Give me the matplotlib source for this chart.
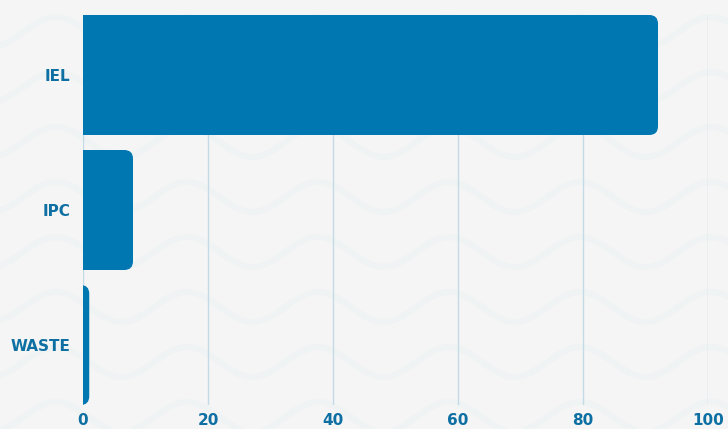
import numpy as np
import matplotlib
matplotlib.use('Agg')
from matplotlib import pyplot as plt
from matplotlib.patches import FancyBboxPatch

# data
categories = ['IEL', 'IPC', 'WASTE']
values = [92, 8, 1]
xticks = [0, 20, 40, 60, 80, 100]

bar_color = '#0077b0'
text_color = '#0e6fa3'
bg_color = '#f5f5f5'

fig = plt.figure(figsize=(7.28, 4.29), dpi=100)
fig.patch.set_facecolor(bg_color)

# wavy background
bg = fig.add_axes([0, 0, 1, 1], zorder=-1)
bg.set_xlim(0, 728)
bg.set_ylim(429, 0)
bg.axis('off')
xx = np.linspace(0, 728, 800)
for yc in range(-23, 480, 55):
    bg.plot(xx, yc - 15 * np.cos(2 * np.pi * (xx - 187) / 131), color='#f0f3f3', lw=4.5,
            solid_capstyle='round')

ax = fig.add_axes([83 / 728, 24 / 429, 625 / 728, 390 / 429])
ax.set_facecolor('none')

h = 120 / 135
ypos = np.arange(len(categories))
ax.set_xlim(0, 100)
ax.set_ylim(len(categories) - 1 + h / 2, -h / 2)

# rounded bars (x-units per px = 0.16, y-units per px = 1/135)
asp = (1 / 135) / 0.16
r = 1.4
for y, v in zip(ypos, values):
    p = FancyBboxPatch((-2, y - h / 2), v + 2, h,
                       boxstyle=f'round,pad=0,rounding_size={r}',
                       mutation_aspect=asp, fc=bar_color, ec='none', zorder=3)
    ax.add_patch(p)

ax.set_yticks(ypos)
ax.set_yticklabels(categories)
ax.set_xticks(xticks)
ax.set_xticklabels([str(t) for t in xticks])
ax.tick_params(length=0, labelsize=11, labelcolor=text_color)
ax.tick_params(axis='y', pad=9)
ax.tick_params(axis='x', pad=6)
for lab in ax.get_xticklabels() + ax.get_yticklabels():
    lab.set_fontweight('heavy')
ax.grid(axis='x', color='#c3dbe7', lw=1, zorder=0)
ax.set_axisbelow(True)
for s in ax.spines.values():
    s.set_visible(False)

fig.savefig('out.png', dpi=100, facecolor=bg_color)
